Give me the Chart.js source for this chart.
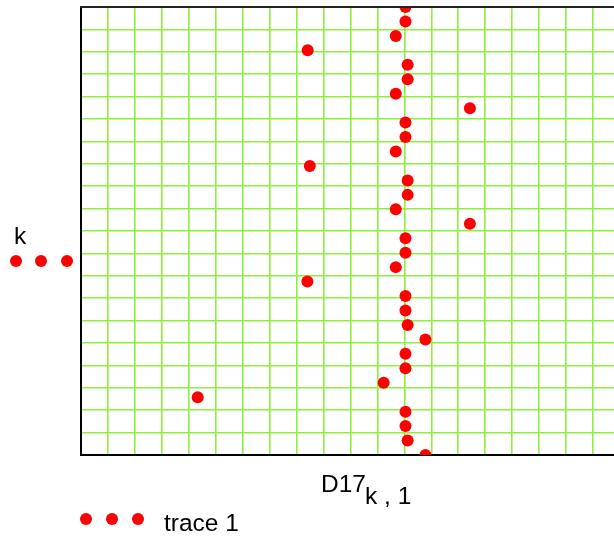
<!DOCTYPE html>
<html>
<head>
<meta charset="utf-8">
<script src="https://cdn.jsdelivr.net/npm/chart.js@4.4.1/dist/chart.umd.min.js"></script>
<style>
  html, body { margin: 0; padding: 0; background: #fff; overflow: hidden; }
  #wrap { position: absolute; left: 0; top: 0; width: 630px; height: 538px; }
</style>
</head>
<body>
<div id="wrap"><canvas id="plot" width="630" height="538"></canvas></div>
<script>
// k index (y) and D17[k,1] values (x), k = 0 at the bottom
const kValues = [0, 1, 2, 3, 4, 5, 6, 7, 8, 9, 10, 11, 12, 13, 14, 15,
  16, 17, 18, 19, 20, 21, 22, 23, 24, 25, 26, 27, 28, 29, 30, 31];
const d17Values = [12.78, 12.12, 12.04, 12.04, 4.33, 11.23, 12.04, 12.04,
  12.78, 12.12, 12.04, 12.04, 8.40, 11.68, 12.04, 12.04,
  14.43, 11.68, 12.12, 12.12, 8.49, 11.68, 12.04, 12.04,
  14.43, 11.68, 12.12, 12.12, 8.41, 11.68, 12.04, 12.04];

const xMin = 0, xMax = 20, xDivisions = 20;
const yMin = 0, yMax = 31, yDivisions = 20;

const gridGreen = '#8cf03c';
const traceRed = '#ff0000';
const fontSpec = '24.5px "Liberation Sans", Arial, sans-serif';

function gridTicks(min, max, n) {
  const out = [];
  for (let i = 0; i <= n; i++) out.push({ value: min + (max - min) * i / n });
  return out;
}

// labels in the Mathcad style: axis names with marker samples, legend below
const mathcadLabels = {
  id: 'mathcadLabels',
  afterDraw(chart) {
    const ctx = chart.ctx;
    const a = chart.chartArea;
    ctx.save();
    // top frame line
    ctx.strokeStyle = '#222';
    ctx.lineWidth = 2;
    ctx.beginPath();
    ctx.moveTo(a.left - 1, a.top);
    ctx.lineTo(a.right, a.top);
    ctx.stroke();

    ctx.fillStyle = '#000';
    ctx.font = fontSpec;
    ctx.textBaseline = 'alphabetic';
    ctx.fillText('k', 14, 244);
    ctx.fillText('D17', 321, 492);
    ctx.fillText('k , 1', 365, 504);
    ctx.fillText('trace 1', 164, 531);

    ctx.fillStyle = traceRed;
    [[16, 261], [41, 261], [67, 261], [86, 519], [112, 519], [138, 519]].forEach(([cx, cy]) => {
      ctx.beginPath();
      ctx.arc(cx, cy, 6, 0, Math.PI * 2);
      ctx.fill();
    });
    ctx.restore();
  }
};

new Chart(document.getElementById('plot'), {
  type: 'scatter',
  data: {
    datasets: [{
      label: 'trace 1',
      data: kValues.map((k, i) => ({ x: d17Values[i], y: k })),
      pointRadius: 6,
      pointHoverRadius: 6,
      pointBackgroundColor: traceRed,
      pointBorderWidth: 0,
      showLine: false,
      clip: 0
    }]
  },
  options: {
    responsive: false,
    animation: false,
    layout: { padding: { left: 81, top: 7, right: 10, bottom: 83 } },
    plugins: { legend: { display: false }, tooltip: { enabled: false } },
    scales: {
      x: {
        type: 'linear',
        min: xMin,
        max: xMax,
        afterBuildTicks: s => { s.ticks = gridTicks(xMin, xMax, xDivisions); },
        ticks: { display: false },
        grid: { color: gridGreen, lineWidth: 1.6, drawTicks: false },
        border: { color: '#000', width: 2 }
      },
      y: {
        type: 'linear',
        min: yMin,
        max: yMax,
        afterBuildTicks: s => { s.ticks = gridTicks(yMin, yMax, yDivisions); },
        ticks: { display: false },
        grid: { color: gridGreen, lineWidth: 1.6, drawTicks: false },
        border: { color: '#000', width: 2 }
      }
    }
  },
  plugins: [mathcadLabels]
});
</script>
</body>
</html>
